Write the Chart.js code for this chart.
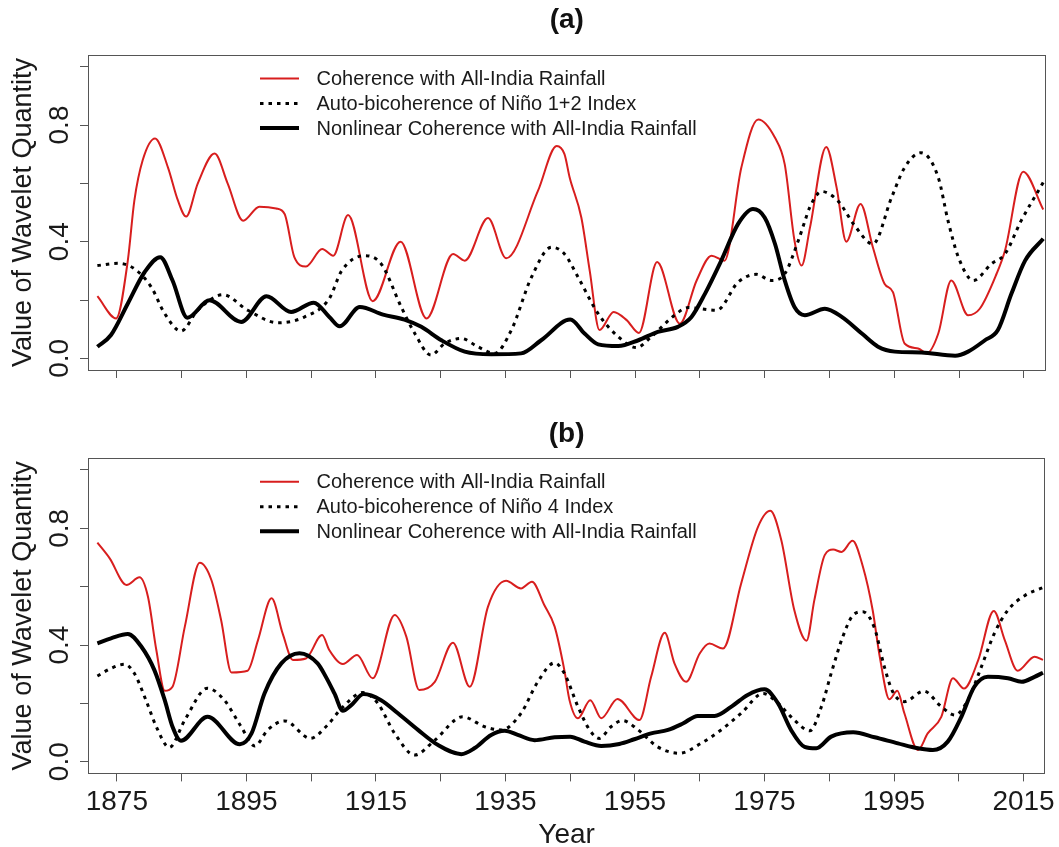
<!DOCTYPE html>
<html>
<head>
<meta charset="utf-8">
<script src="https://cdn.jsdelivr.net/npm/chart.js@4.4.1/dist/chart.umd.min.js"></script>
<style>
html,body{margin:0;padding:0;overflow:hidden;background:#fff;width:1059px;height:847px;}
canvas{position:absolute;left:0;}
#ca{top:0;}
#cb{top:410px;}
</style>
</head>
<body>
<canvas id="ca" width="1059" height="410"></canvas>
<canvas id="cb" width="1059" height="442"></canvas>
<script>
// ---------- tick labels / text ----------
const xTickYears = [1875,1885,1895,1905,1915,1925,1935,1945,1955,1965,1975,1985,1995,2005,2015];
const xLabelYears = [1875,1895,1915,1935,1955,1975,1995,2015];
const yTickValues = [0,0.2,0.4,0.6,0.8,1.0];
const yLabelValues = [0,0.4,0.8];
const yLabelTexts = ['0.0','0.4','0.8'];
const legendA = ['Coherence with All-India Rainfall','Auto-bicoherence of Niño 1+2 Index','Nonlinear Coherence with All-India Rainfall'];
const legendB = ['Coherence with All-India Rainfall','Auto-bicoherence of Niño 4 Index','Nonlinear Coherence with All-India Rainfall'];

// ---------- panel (a) ----------
const aCohYears = [1872.0,1874.9,1876.7,1877.7,1879.0,1880.9,1882.9,1884.4,1885.7,1887.5,
  1890.1,1892.1,1894.5,1897.0,1899.6,1900.9,1902.4,1904.2,1906.7,1908.4,
  1910.7,1914.5,1918.8,1922.8,1926.9,1928.7,1932.3,1935.1,1940.0,1942.9,
  1944.1,1944.9,1946.7,1948.0,1949.5,1951.7,1953.7,1955.6,1958.4,1961.9,
  1964.5,1966.8,1968.8,1971.4,1974.0,1976.6,1978.1,1979.6,1980.7,1982.0,
  1984.5,1986.1,1987.6,1989.8,1991.7,1993.5,1994.8,1996.6,1998.7,2000.0,
  2001.8,2003.8,2006.4,2008.2,2010.8,2012.1,2014.9,2018.0];
const aCohVals = [0.213,0.137,0.336,0.54,0.68,0.754,0.654,0.543,0.486,0.60,
  0.702,0.60,0.472,0.52,0.514,0.495,0.347,0.315,0.375,0.352,
  0.491,0.196,0.40,0.137,0.358,0.335,0.481,0.343,0.574,0.728,
  0.70,0.62,0.483,0.30,0.097,0.159,0.131,0.087,0.33,0.119,
  0.267,0.352,0.335,0.654,0.819,0.756,0.665,0.404,0.318,0.449,
  0.725,0.586,0.40,0.529,0.381,0.256,0.227,0.051,0.034,0.017,
  0.085,0.267,0.148,0.17,0.29,0.37,0.64,0.51];

const aBicYears = [1872.0,1875.2,1877.7,1880.3,1882.4,1884.9,1887.5,1891.4,1895.2,1899.9,
  1904.0,1907.8,1909.7,1913.2,1915.8,1918.9,1921.0,1923.5,1925.6,1928.2,
  1930.7,1933.3,1935.9,1939.0,1942.1,1944.1,1946.2,1949.3,1952.4,1955.2,
  1957.5,1961.1,1963.2,1967.6,1970.9,1973.7,1976.0,1978.1,1980.2,1981.2,
  1982.0,1983.8,1986.3,1988.9,1991.7,1994.6,1996.6,1999.1,2001.8,2003.3,
  2004.9,2007.2,2010.0,2012.1,2014.6,2018.0];
const aBicVals = [0.318,0.326,0.307,0.245,0.153,0.093,0.165,0.218,0.165,0.122,
  0.142,0.205,0.30,0.352,0.324,0.176,0.085,0.011,0.051,0.068,
  0.04,0.017,0.097,0.278,0.381,0.358,0.278,0.153,0.074,0.037,
  0.074,0.148,0.174,0.165,0.261,0.288,0.267,0.29,0.404,0.47,
  0.52,0.572,0.54,0.455,0.392,0.552,0.654,0.705,0.62,0.472,
  0.347,0.267,0.324,0.358,0.472,0.603];

const aNlYears = [1872.0,1874.1,1876.7,1879.3,1881.7,1883.6,1885.9,1889.3,1894.2,1898.1,
  1901.9,1905.4,1907.8,1909.4,1912.5,1916.1,1919.4,1922.0,1925.1,1928.7,
  1932.8,1937.4,1940.5,1945.0,1947.2,1949.3,1952.4,1955.5,1958.5,1961.6,
  1963.7,1965.8,1968.3,1970.9,1973.2,1975.0,1976.6,1978.1,1979.6,1981.2,
  1984.3,1986.9,1990.0,1992.5,1995.1,1999.2,2004.4,2006.4,2009.0,2011.0,
  2013.1,2015.2,2018.0];
const aNlVals = [0.04,0.08,0.188,0.296,0.347,0.267,0.139,0.199,0.125,0.213,
  0.159,0.191,0.142,0.110,0.176,0.150,0.133,0.108,0.062,0.023,
  0.014,0.017,0.062,0.133,0.085,0.048,0.042,0.062,0.091,0.108,
  0.142,0.222,0.335,0.461,0.512,0.483,0.392,0.267,0.176,0.148,
  0.17,0.142,0.085,0.04,0.023,0.020,0.009,0.023,0.062,0.097,
  0.222,0.335,0.41];

// ---------- panel (b) ----------
const bCohYears = [1872.0,1873.9,1876.5,1878.5,1879.8,1881.1,1882.4,1883.6,1885.5,1887.8,
  1889.6,1891.1,1892.7,1895.2,1896.8,1898.9,1900.6,1902.2,1904.2,1906.7,
  1907.8,1909.9,1912.1,1914.5,1917.9,1919.7,1921.7,1924.1,1926.9,1929.5,
  1932.3,1935.1,1937.4,1939.1,1941.0,1942.6,1944.1,1944.9,1946.2,1948.1,
  1949.8,1952.3,1955.7,1957.5,1959.6,1961.1,1962.9,1965.0,1966.5,1968.6,
  1971.4,1974.0,1975.9,1977.6,1979.6,1981.5,1982.7,1984.3,1985.6,1986.9,
  1988.6,1990.2,1991.7,1992.8,1994.3,1995.5,1996.6,1998.7,2000.2,2002.3,
  2004.1,2005.8,2008.0,2010.4,2012.1,2014.1,2016.7,2018.0];
const bCohVals = [0.751,0.697,0.606,0.632,0.566,0.383,0.243,0.257,0.463,0.682,
  0.623,0.486,0.306,0.312,0.417,0.560,0.44,0.349,0.354,0.434,
  0.383,0.335,0.366,0.286,0.503,0.429,0.246,0.274,0.408,0.257,
  0.531,0.62,0.594,0.617,0.537,0.463,0.314,0.211,0.149,0.211,
  0.149,0.215,0.143,0.291,0.442,0.337,0.274,0.371,0.405,0.388,
  0.611,0.805,0.86,0.759,0.52,0.415,0.554,0.708,0.727,0.719,
  0.757,0.668,0.52,0.36,0.214,0.243,0.166,0.04,0.097,0.154,
  0.286,0.251,0.348,0.517,0.417,0.312,0.36,0.349];

const bBicYears = [1872.0,1874.1,1876.2,1877.7,1879.5,1881.1,1883.1,1885.5,1889.0,1891.6,
  1894.2,1896.3,1898.3,1900.9,1904.9,1907.5,1909.7,1913.0,1915.3,1917.9,
  1921.0,1924.1,1928.4,1931.8,1934.4,1937.4,1940.0,1942.6,1944.1,1946.2,
  1948.0,1949.5,1951.3,1953.1,1955.5,1958.5,1961.9,1965.2,1968.3,1971.4,
  1974.8,1977.1,1979.6,1982.0,1983.8,1985.3,1987.1,1988.7,1990.2,1992.0,
  1993.5,1994.8,1996.6,1999.6,2002.3,2004.4,2006.4,2008.5,2010.5,2012.6,
  2015.3,2018.0];
const bBicVals = [0.294,0.32,0.334,0.303,0.211,0.12,0.049,0.143,0.252,0.211,
  0.12,0.054,0.109,0.14,0.08,0.125,0.183,0.237,0.2,0.097,
  0.023,0.074,0.154,0.12,0.109,0.166,0.274,0.339,0.303,0.189,
  0.109,0.08,0.12,0.141,0.109,0.051,0.029,0.063,0.109,0.166,
  0.234,0.2,0.143,0.106,0.189,0.303,0.429,0.503,0.514,0.457,
  0.326,0.24,0.206,0.242,0.189,0.16,0.211,0.326,0.44,0.52,
  0.571,0.597];

const bNlYears = [1872.0,1874.1,1876.7,1878.8,1880.8,1882.4,1883.6,1884.9,1889.0,1894.0,
  1895.8,1897.8,1900.4,1903.2,1906.0,1907.3,1908.6,1909.9,1911.2,1913.1,
  1915.8,1918.4,1921.5,1924.6,1928.2,1930.2,1932.8,1934.9,1936.9,1939.5,
  1942.6,1945.0,1947.2,1949.8,1952.6,1954.9,1957.5,1960.1,1962.4,1964.7,
  1967.3,1969.9,1972.4,1975.0,1977.1,1979.1,1981.2,1983.0,1985.3,1988.7,
  1992.0,1995.6,1998.7,2001.0,2003.3,2005.4,2007.4,2009.5,2012.6,2014.7,
  2016.7,2018.0];
const bNlVals = [0.406,0.423,0.438,0.394,0.314,0.211,0.12,0.072,0.154,0.06,
  0.097,0.234,0.337,0.372,0.337,0.29,0.234,0.175,0.194,0.232,
  0.211,0.166,0.109,0.057,0.026,0.046,0.092,0.106,0.092,0.074,
  0.084,0.086,0.069,0.054,0.061,0.077,0.097,0.109,0.131,0.157,
  0.157,0.189,0.229,0.248,0.2,0.109,0.051,0.046,0.086,0.101,
  0.084,0.063,0.046,0.04,0.069,0.154,0.257,0.291,0.286,0.274,
  0.291,0.305];

// ---------- build ----------
const FONT = '"Liberation Sans", Arial, Helvetica, sans-serif';
const TXT = '#1a1a1a';
const AXC = '#555';
const RED = '#d81e1e';
Chart.defaults.font.family = FONT;

function pts(xs, ys) { return xs.map((x, i) => ({x: x, y: ys[i]})); }

const decor = {
  id: 'decor',
  afterDatasetsDraw(chart, args, opts) {
    const ctx = chart.ctx, a = chart.chartArea, ys = chart.scales.y;
    ctx.save();
    ctx.setLineDash([]);
    ctx.strokeStyle = AXC; ctx.lineWidth = 1;
    ctx.strokeRect(Math.round(a.left) + 0.5, Math.round(a.top) + 0.5,
                   Math.round(a.right - a.left) - 1, Math.round(a.bottom - a.top));
    ctx.fillStyle = TXT;
    ctx.font = '28px ' + FONT;
    yLabelValues.forEach((v, i) => {
      const py = ys.getPixelForValue(v);
      ctx.save();
      ctx.translate(67.5, py);
      ctx.rotate(-Math.PI / 2);
      ctx.textAlign = 'center';
      ctx.textBaseline = 'alphabetic';
      ctx.fillText(yLabelTexts[i], 0, 0);
      ctx.restore();
    });
    const rows = [23.5, 48.5, 73];
    ctx.font = '20px ' + FONT;
    ctx.textAlign = 'left';
    ctx.textBaseline = 'middle';
    chart.data.datasets.forEach((ds, i) => {
      const y = a.top + rows[i];
      ctx.save();
      ctx.strokeStyle = ds.borderColor;
      ctx.lineWidth = ds.borderWidth;
      ctx.setLineDash(ds.borderDash || []);
      ctx.beginPath();
      ctx.moveTo(260, y); ctx.lineTo(299, y);
      ctx.stroke();
      ctx.restore();
      ctx.fillStyle = TXT;
      ctx.fillText(opts.labels[i], 316.5, y + 1);
    });
    ctx.restore();
  }
};

function makeChart(id, o) {
  return new Chart(document.getElementById(id), {
    type: 'line',
    data: {
      datasets: [
        {label: o.labels[0], data: pts(o.coh[0], o.coh[1]), borderColor: RED, borderWidth: 2, order: 2},
        {label: o.labels[1], data: pts(o.bic[0], o.bic[1]), borderColor: '#000', borderWidth: 3, borderDash: [3.5, 5], order: 1},
        {label: o.labels[2], data: pts(o.nl[0], o.nl[1]), borderColor: '#000', borderWidth: 4, order: 0}
      ]
    },
    options: {
      responsive: false,
      animation: false,
      events: [],
      elements: {
        point: {radius: 0},
        line: {cubicInterpolationMode: 'monotone', fill: false, borderCapStyle: 'butt', borderJoinStyle: 'round'}
      },
      layout: {padding: {left: 0, right: 13.5, top: 0, bottom: 0}},
      plugins: {
        legend: {display: false},
        tooltip: {enabled: false},
        title: {display: true, fullSize: false, text: o.title, color: '#111',
                font: {size: 28, weight: 'bold', family: FONT, lineHeight: 1.2},
                padding: o.titlePad},
        decor: {labels: o.labels}
      },
      scales: {
        x: {
          type: 'linear', min: 1870.55, max: 2018.35,
          afterBuildTicks: s => { s.ticks = xTickYears.map(v => ({value: v})); },
          afterFit: s => { s.height = o.xHeight; },
          grid: {drawOnChartArea: false, drawTicks: true, tickLength: 8, color: AXC, lineWidth: 1},
          border: {display: false},
          ticks: {display: o.xLabels, autoSkip: false, maxRotation: 0, minRotation: 0, padding: 4,
                  color: TXT, font: {size: 28, family: FONT},
                  callback: v => (xLabelYears.includes(v) ? String(v) : '')},
          title: {display: o.xLabels, text: 'Year', color: TXT, font: {size: 28, family: FONT, lineHeight: 1.2},
                  padding: {top: 0, bottom: 0}}
        },
        y: {
          min: -0.04, max: 1.04,
          afterBuildTicks: s => { s.ticks = yTickValues.map(v => ({value: v})); },
          afterFit: s => { s.width = 88; },
          grid: {drawOnChartArea: false, drawTicks: true, tickLength: 8, color: AXC, lineWidth: 1},
          border: {display: false},
          ticks: {display: false},
          title: {display: true, text: 'Value of Wavelet Quantity', color: TXT,
                  font: {size: 27, family: FONT, lineHeight: 1.2}, padding: {top: 7, bottom: 0}}
        }
      }
    },
    plugins: [decor]
  });
}

makeChart('ca', {
  title: '(a)', titlePad: {top: 3.2, bottom: 18.2}, xHeight: 40, xLabels: false, labels: legendA,
  coh: [aCohYears, aCohVals], bic: [aBicYears, aBicVals], nl: [aNlYears, aNlVals]
});
makeChart('cb', {
  title: '(b)', titlePad: {top: 7.2, bottom: 7.5}, xHeight: 78.6, xLabels: true, labels: legendB,
  coh: [bCohYears, bCohVals], bic: [bBicYears, bBicVals], nl: [bNlYears, bNlVals]
});
</script>
</body>
</html>
